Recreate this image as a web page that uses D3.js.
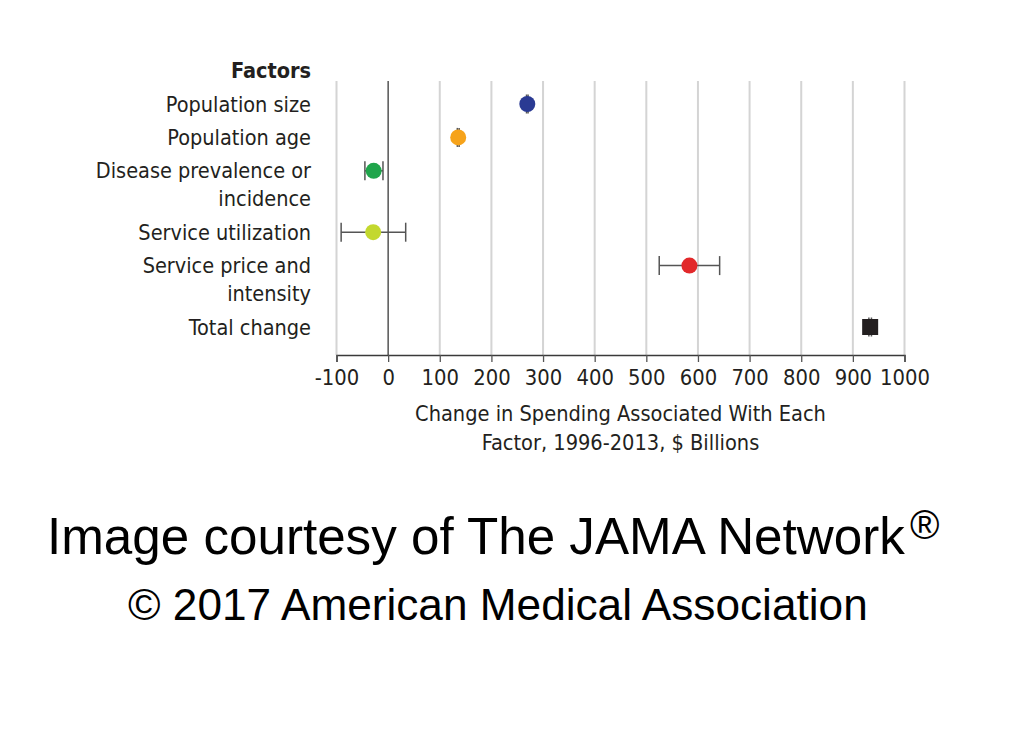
<!DOCTYPE html>
<html>
<head>
<meta charset="utf-8">
<script src="https://cdn.jsdelivr.net/npm/d3@7"></script>
<style>
  html, body { margin: 0; padding: 0; background: #fff; }
  svg { display: block; }
</style>
</head>
<body>
<svg id="chart" width="1024" height="742"></svg>
<script>
// ---- data ----
const categories = [
  ["Population size"],
  ["Population age"],
  ["Disease prevalence or", "incidence"],
  ["Service utilization"],
  ["Service price and", "intensity"],
  ["Total change"]
];
const estimates = [269.5, 135.7, -28, -29, 583.5, 933.5];
const lower     = [268, 134, -45, -91, 525, 931];
const upper     = [271, 137.5, -10, 34, 642, 936];
const colors    = ["#2a3a93", "#f6a31b", "#1fa54b", "#c3d82e", "#e2282a", "#231f20"];
const shapes    = ["circle", "circle", "circle", "circle", "circle", "square"];
const tickValues = [-100, 0, 100, 200, 300, 400, 500, 600, 700, 800, 900, 1000];
const tickLabels = ["-100", "0", "100", "200", "300", "400", "500", "600", "700", "800", "900", "1000"];
const axisTitle = ["Change in Spending Associated With Each", "Factor, 1996-2013, $ Billions"];
const headerLabel = "Factors";
const footerLines = ["Image courtesy of The JAMA Network", "\u00A9 2017 American Medical Association"];

// ---- layout ----
const svg = d3.select("#chart");
const chartFont = "'Liberation Sans Narrow', 'DejaVu Sans Condensed', 'Open Sans', sans-serif";
const fs = 21.5;
const plotLeft = 336.5, plotRight = 904.5, plotTop = 81, plotBottom = 355;
const x = d3.scaleLinear().domain([-100, 1000]).range([plotLeft, plotRight]);

// row slots: extra lines of previous labels add partial slots
const lineRatio = 28 / 33.4;
let acc = 0;
const slots = categories.map((lab) => { const s = acc; acc += 1 + (lab.length - 1) * lineRatio; return s; });
const y = d3.scaleLinear().domain([0, 1]).range([104, 137.4]);

// gridlines
svg.append("g").selectAll("line").data(tickValues.filter(v => v !== 0)).join("line")
  .attr("x1", d => x(d)).attr("x2", d => x(d))
  .attr("y1", plotTop).attr("y2", plotBottom)
  .attr("stroke", "#d4d4d4").attr("stroke-width", 2);

// zero line
svg.append("line")
  .attr("x1", x(0)).attr("x2", x(0)).attr("y1", plotTop).attr("y2", plotBottom)
  .attr("stroke", "#3a3a3a").attr("stroke-width", 1.3);

// x axis
const axis = d3.axisBottom(x).tickValues(tickValues).tickSize(7).tickPadding(8)
  .tickFormat((d, i) => tickLabels[i]);
const gx = svg.append("g").attr("transform", `translate(0,${plotBottom})`).call(axis);
gx.select(".domain").attr("stroke", "#3a3a3a").attr("stroke-width", 1.5);
gx.selectAll(".tick line").attr("stroke", "#555").attr("stroke-width", 1.3);
gx.selectAll(".tick text").attr("font-family", chartFont).attr("font-size", 21.8).attr("fill", "#231f20");

// axis title
svg.append("text").attr("x", x(450)).attr("y", 421)
  .attr("text-anchor", "middle").attr("font-family", chartFont).attr("font-size", 21.6).attr("fill", "#231f20")
  .selectAll("tspan").data(axisTitle).join("tspan")
  .attr("x", x(450)).attr("dy", (d, i) => i === 0 ? 0 : 29).text(d => d);

// header
svg.append("text").attr("x", 311).attr("y", 78).attr("text-anchor", "end")
  .attr("font-family", chartFont).attr("font-size", fs).attr("font-weight", "bold").attr("fill", "#231f20")
  .text(headerLabel);

// category labels
const labG = svg.append("g");
categories.forEach((lab, i) => {
  const t = labG.append("text").attr("x", 311).attr("y", y(slots[i]) + 7.5)
    .attr("text-anchor", "end").attr("font-family", chartFont).attr("font-size", fs).attr("fill", "#231f20");
  lab.forEach((line, j) => t.append("tspan").attr("x", 311).attr("dy", j === 0 ? 0 : 28).text(line));
});

// error bars
const eg = svg.append("g");
estimates.forEach((v, i) => {
  const cy = y(slots[i]);
  eg.append("line").attr("x1", x(lower[i])).attr("x2", x(upper[i])).attr("y1", cy).attr("y2", cy)
    .attr("stroke", "#555").attr("stroke-width", 1.5);
  [lower[i], upper[i]].forEach(b => {
    eg.append("line").attr("x1", x(b)).attr("x2", x(b)).attr("y1", cy - 9.5).attr("y2", cy + 9.5)
      .attr("stroke", "#555").attr("stroke-width", 1.5);
  });
});

// points
const pg = svg.append("g");
estimates.forEach((v, i) => {
  const cy = y(slots[i]);
  if (shapes[i] === "circle") {
    pg.append("circle").attr("cx", x(v)).attr("cy", cy).attr("r", 8).attr("fill", colors[i]);
  } else {
    pg.append("rect").attr("x", x(v) - 8).attr("y", cy - 8).attr("width", 16).attr("height", 16).attr("fill", colors[i]);
  }
});

// footer (glyph height from reference, horizontally condensed to reference width)
const footFont = "'Liberation Sans', Arial, sans-serif";
function fitText(txt, size, left, baseline, width) {
  const g = svg.append("g");
  const t = g.append("text").attr("x", 0).attr("y", 0).attr("font-family", footFont)
    .attr("font-size", size).attr("fill", "#000").text(txt);
  const w = t.node().getComputedTextLength();
  const sx = width / w;
  g.attr("transform", `translate(${left},${baseline}) scale(${sx},1)`);
  return width;
}
fitText(footerLines[0], 52, 47, 554, 858);
svg.append("text").attr("x", 47 + 858 + 5).attr("y", 539).attr("font-family", footFont)
  .attr("font-size", 40).attr("fill", "#000").text("\u00AE");
fitText(footerLines[1], 44, 128, 620, 740);
</script>
</body>
</html>
